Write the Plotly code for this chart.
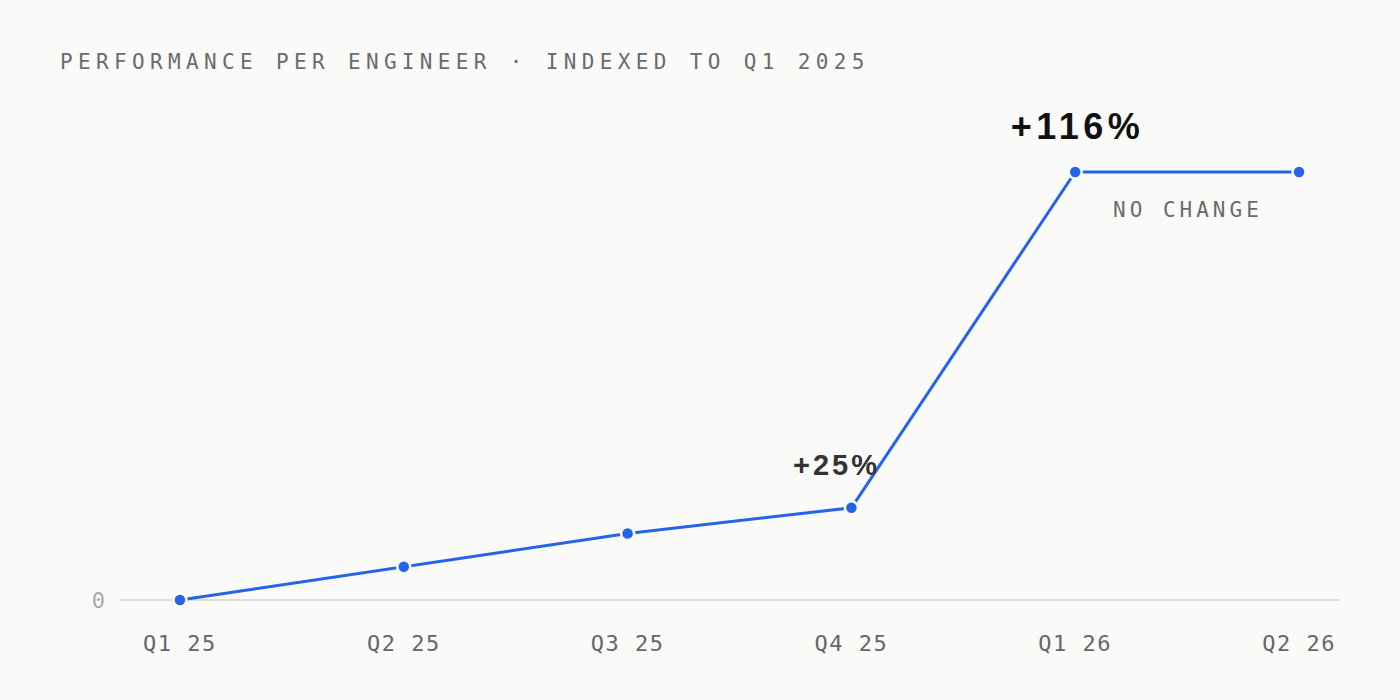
import plotly.graph_objects as go

# quarterly performance per engineer, % change vs Q1 2025
quarters = ["Q1 25", "Q2 25", "Q3 25", "Q4 25", "Q1 26", "Q2 26"]
perf_change = [0, 9, 18, 25, 116, 116]

title_text = "PERFORMANCE PER ENGINEER · INDEXED TO Q1 2025"
y_ticks = [0]
y_ticktext = ["0"]

BLUE = "#2563eb"
BG = "#fafaf9"
MONO = "DejaVu Sans Mono, monospace"
SANS = "Liberation Sans, Arial, sans-serif"

fig = go.Figure()
fig.add_trace(go.Scatter(
    x=quarters, y=perf_change,
    mode="lines+markers",
    line=dict(color=BLUE, width=3),
    marker=dict(size=13, color=BLUE, line=dict(color=BG, width=2.5)),
    cliponaxis=False,
    hoverinfo="skip",
))

# callouts
fig.add_annotation(x=quarters[4], y=perf_change[4], text="<b>+116%</b>",
                   showarrow=False, yanchor="middle", yshift=45, xshift=2,
                   font=dict(family=SANS, size=36, color="#111111"))
fig.add_annotation(x=quarters[3], y=perf_change[3], text="<b>+25%</b>",
                   showarrow=False, yanchor="middle", yshift=43, xshift=-15,
                   font=dict(family=SANS, size=29, color="#333333"))
fig.add_annotation(x=4.5, y=perf_change[5], text="NO CHANGE",
                   showarrow=False, yanchor="middle", yshift=-38, xshift=1,
                   font=dict(family=MONO, size=21, color="#6b6b6b"))

fig.update_layout(
    width=1400, height=700,
    paper_bgcolor=BG, plot_bgcolor=BG,
    margin=dict(l=120, r=60, t=100, b=90),
    showlegend=False,
    title=dict(text=title_text, x=60 / 1400, xanchor="left", xref="container",
               y=1 - 62 / 700, yanchor="middle", yref="container",
               font=dict(family=MONO, size=21, color="#6b6b6b")),
)
fig.update_xaxes(
    type="category", range=[-0.268, 5.183],
    showgrid=False, zeroline=False, showline=False,
    ticks="", ticklabelstandoff=18,
    tickfont=dict(family=MONO, size=22, color="#666666"),
)
fig.update_yaxes(
    range=[-2.71, 135.5],
    tickvals=y_ticks, ticktext=y_ticktext,
    showgrid=False, zeroline=True, zerolinecolor="#dcdcdc", zerolinewidth=1.5,
    showline=False, ticks="", ticklabelstandoff=14,
    tickfont=dict(family=MONO, size=22, color="#a8a8a8"),
)

# letter spacing for the labels, and no page margin
spacing_js = """
document.body.style.margin = '0';
var gd = document.getElementById('{plot_id}');
gd.querySelectorAll('text').forEach(function (t) {
  var s = t.textContent;
  if (s.indexOf('PERFORMANCE') === 0) { t.style.letterSpacing = '5.35px'; }
  else if (s === 'NO CHANGE') { t.style.letterSpacing = '4px'; }
  else if (s === '+116%') { t.style.letterSpacing = '4.5px'; }
  else if (s === '+25%') { t.style.letterSpacing = '3px'; }
});
gd.querySelectorAll('.xtick text').forEach(function (t) {
  t.style.letterSpacing = '1.5px';
});
"""

fig.write_html("out.html", post_script=spacing_js,
               config={"displayModeBar": False})
